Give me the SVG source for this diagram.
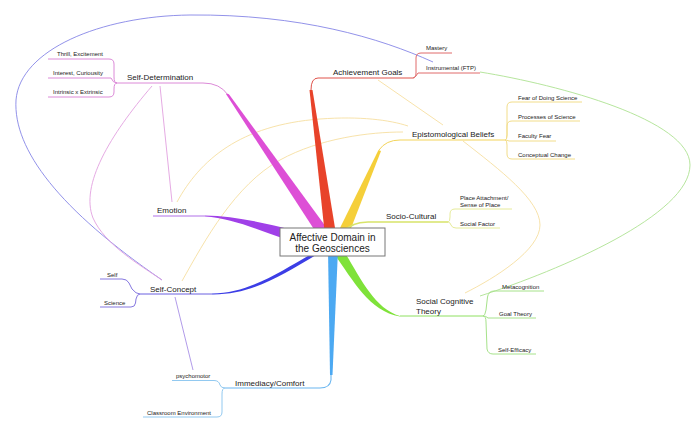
<svg xmlns="http://www.w3.org/2000/svg" width="700" height="430" viewBox="0 0 700 430">
<style>
text{font-family:"Liberation Sans",Arial,sans-serif;fill:#222}
.m{font-size:8px}
.l{font-size:6px}
.c{font-size:10px;text-anchor:middle}
.ln{fill:none;stroke-width:1}
.rel{fill:none;stroke-width:0.9}
</style>
<rect width="700" height="430" fill="#fff"/>
<g id="connectors">
  <!-- relationship lines -->
  <path class="rel" stroke="#8686e6" d="M433,62 C380,38 300,14 190,15 C100,16 20,50 16,100 C13,150 60,210 162,280"/>
  <path class="rel" stroke="#e2a0e0" d="M152,86 C110,135 80,185 93,218 C105,245 140,265 162,280"/>
  <path class="rel" stroke="#e2a0e0" d="M160,86 L172,202"/>
  <path class="rel" stroke="#f6dfa0" d="M177,202 C200,160 240,125 320,119 C360,116 390,120 408,126"/>
  <path class="rel" stroke="#f6dfa0" d="M182,281 C205,240 235,185 280,160 C320,138 370,132 403,132"/>
  <path class="rel" stroke="#f6dfa0" d="M378,80 L443,125"/>
  <path class="rel" stroke="#f6dfa0" d="M463,141 C500,170 540,200 540,225 C540,250 495,278 465,293"/>
  <path class="rel" stroke="#aee292" d="M480,72 C560,85 690,120 690,165 C690,215 560,270 480,296"/>
  <path class="rel" stroke="#a890e6" d="M175,297 L193,370"/>

  <!-- Self-Determination -->
  <path class="ln" stroke="#dc8ad8" d="M117,83 H203 Q220,83 228,95"/>
  <path fill="#dd4fd6" d="M226,94 Q228,93 229.5,95 L329,231 L319,237 Z"/>
  <path class="ln" stroke="#dc8ad8" d="M117,83 Q114,83 114,77 V64 Q114,59 109,59 H48"/>
  <path class="ln" stroke="#dc8ad8" d="M117,83 Q113,83 111,78 H48"/>
  <path class="ln" stroke="#dc8ad8" d="M117,83 Q114,83 114,89 V92 Q114,97 109,97 H48"/>

  <!-- Achievement Goals -->
  <path class="ln" stroke="#e0524a" d="M413,78 H318 Q311,78 311,90"/>
  <path fill="#e8432a" d="M309.5,90 L312.5,90 L336,234 L325,236 Z"/>
  <path class="ln" stroke="#e06a6a" d="M413,78 Q416,78 416,73 V58 Q416,53 421,53 H452"/>
  <path class="ln" stroke="#e06a6a" d="M413,78 Q416,77 418,73 H480"/>

  <!-- Epistomological Beliefs -->
  <path class="ln" stroke="#f3d45a" d="M379,150 Q386,140 400,140 H505"/>
  <path fill="#f5cf3a" d="M378.5,150 L381,151 L348,236 L338,232 Z"/>
  <path class="ln" stroke="#f2dd8a" d="M505,140 Q507,140 507,135 V107 Q507,102 512,102 H582"/>
  <path class="ln" stroke="#f2dd8a" d="M505,140 Q507,140 507,135 V126 Q507,121 512,121 H580"/>
  <path class="ln" stroke="#f2dd8a" d="M505,140 Q507,140 509,141 H556"/>
  <path class="ln" stroke="#f2dd8a" d="M505,140 Q507,140 507,145 V154 Q507,159 512,159 H575"/>

  <!-- Socio-Cultural -->
  <path fill="none" stroke="#d8e46a" stroke-width="1.6" d="M342,233 Q351,222 368,222 H448"/>
  <path class="ln" stroke="#e6eb9a" d="M448,222 Q450,222 450,217 V214 Q450,209 455,209 H512"/>
  <path class="ln" stroke="#e6eb9a" d="M448,222 Q450,222 451,225 Q452,228 456,228 H500"/>

  <!-- Social Cognitive Theory -->
  <path class="ln" stroke="#8ee060" d="M400,316 H483"/>
  <path fill="#7fe23a" d="M340,245 C358,272 372,308 400,316 L400,316.6 C368,311 352,278 332,251 Z"/>
  <path class="ln" stroke="#a6e28a" d="M483,316 Q485,316 486,310 L487.5,297 Q488.5,291 494,291 H544"/>
  <path class="ln" stroke="#a6e28a" d="M483,316 Q486,316 488,318 H536"/>
  <path class="ln" stroke="#a6e28a" d="M483,316 Q486,316 486,322 L487,349 Q488,354 493,354 H536"/>

  <!-- Immediacy/Comfort -->
  <path fill="none" stroke="#6ab6f0" stroke-width="1.1" d="M331,372 L331,380 Q330,388 320,388 H225"/>
  <path fill="#4ca9f2" d="M328,250 L338,250 L332.5,375 L330,375 Z"/>
  <path class="ln" stroke="#92c9f0" d="M225,388 Q221,388 220,385 Q219,380.5 214,380.5 H172"/>
  <path class="ln" stroke="#92c9f0" d="M225,388 Q222,388 222,394 V412 Q222,417 217,417 H143"/>

  <!-- Self-Concept -->
  <path class="ln" stroke="#6a60e0" d="M212,294 H140"/>
  <path fill="#3c3ee6" d="M324,247 C285,268 252,293.5 212,293.5 L212,294.5 C252,295 282,275 316,255 Z"/>
  <path class="ln" stroke="#8678e0" d="M140,294 Q136,294 132,289 L129,283 Q127,279 122,279 H100"/>
  <path class="ln" stroke="#8678e0" d="M140,294 Q137,294 136,299 L135.5,303 Q135,307 131,307 H100"/>

  <!-- Emotion -->
  <path class="ln" stroke="#b070e8" d="M153,216 H205"/>
  <path fill="#a040e8" d="M205,215.5 C232,216 262,222 292,230 L288,240 C258,230 232,218 205,216.5 Z"/>
</g>

<g id="center">
  <rect x="280" y="228" width="105" height="28" fill="#fff" stroke="#777" stroke-width="1"/>
  <text class="c" x="332.5" y="241">Affective Domain in</text>
  <text class="c" x="332.5" y="252">the Geosciences</text>
</g>
<g id="self-determination">
  <text class="m" x="127" y="80">Self-Determination</text>
</g>
<g id="thrill"><text class="l" x="57" y="55.5">Thrill, Excitement</text></g>
<g id="interest"><text class="l" x="53" y="74.5">Interest, Curiousity</text></g>
<g id="intrinsic"><text class="l" x="53" y="93.5">Intrinsic x Extrinsic</text></g>
<g id="achievement-goals"><text class="m" x="333" y="75">Achievement Goals</text></g>
<g id="mastery"><text class="l" x="426" y="50">Mastery</text></g>
<g id="instrumental"><text class="l" x="426" y="70">Instrumental (FTP)</text></g>
<g id="epistomological"><text class="m" x="412" y="137">Epistomological Beliefs</text></g>
<g id="fear"><text class="l" x="518" y="99.5">Fear of Doing Science</text></g>
<g id="processes"><text class="l" x="518" y="118.5">Processes of Science</text></g>
<g id="faculty"><text class="l" x="518" y="138">Faculty Fear</text></g>
<g id="conceptual"><text class="l" x="518" y="156.5">Conceptual Change</text></g>
<g id="socio-cultural"><text class="m" x="386" y="218.5">Socio-Cultural</text></g>
<g id="place"><text class="l" x="460" y="199.5">Place Attachment/</text><text class="l" x="460" y="206.8">Sense of Place</text></g>
<g id="social-factor"><text class="l" x="460" y="225.5">Social Factor</text></g>
<g id="social-cognitive"><text class="m" x="416" y="304">Social Cognitive</text><text class="m" x="416" y="313.5">Theory</text></g>
<g id="metacognition"><text class="l" x="502" y="288.5">Metacognition</text></g>
<g id="goal-theory"><text class="l" x="499" y="315.5">Goal Theory</text></g>
<g id="self-efficacy"><text class="l" x="498" y="351.5">Self-Efficacy</text></g>
<g id="emotion"><text class="m" x="157" y="213">Emotion</text></g>
<g id="self-concept"><text class="m" x="150" y="291.5">Self-Concept</text></g>
<g id="self"><text class="l" x="107" y="276.5">Self</text></g>
<g id="science"><text class="l" x="104" y="305">Science</text></g>
<g id="immediacy"><text class="m" x="235" y="386">Immediacy/Comfort</text></g>
<g id="psychomotor"><text class="l" x="176" y="377.5">psychomotor</text></g>
<g id="classroom"><text class="l" x="147" y="414.5">Classroom Environment</text></g>
</svg>
